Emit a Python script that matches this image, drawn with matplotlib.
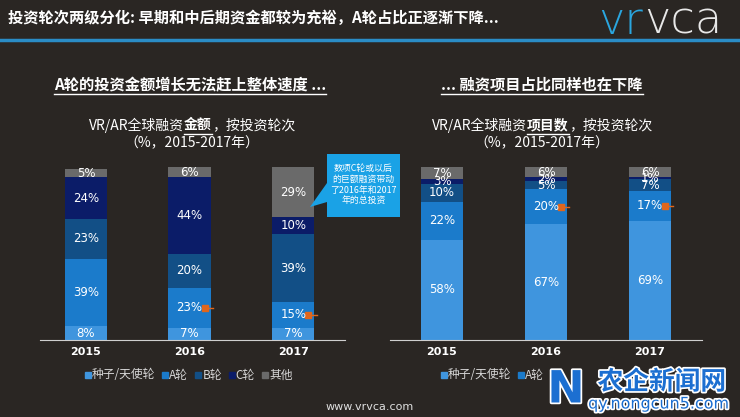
import matplotlib.pyplot as plt
import matplotlib.patheffects as pe
from matplotlib.patches import Polygon
import numpy as np

plt.rcParams['font.family'] = ['Noto Sans CJK SC', 'DejaVu Sans']

years = ['2015', '2016', '2017']
rounds = ['种子/天使轮', 'A轮', 'B轮', 'C轮', '其他']
colors = ['#3f95de', '#1b7bcb', '#124f86', '#0b1c68', '#6a6a6a']

# share of money, by round (rows) and year (cols)
amount = [[8, 7, 7],
          [39, 23, 15],
          [23, 20, 39],
          [24, 44, 10],
          [5, 6, 29]]
# share of deals
deals = [[58, 67, 69],
         [22, 20, 17],
         [10, 5, 7],
         [3, 2, 1],
         [7, 6, 6]]
marked = [1, 2]   # years with the orange dot on the A segment

bg = '#2a2623'
fig = plt.figure(figsize=(7.4, 4.17), dpi=100)
fig.patch.set_facecolor(bg)


def px_axes(x0, x1, y_top, y_bot):
    return fig.add_axes([x0 / 740, 1 - y_bot / 417, (x1 - x0) / 740, (y_bot - y_top) / 417])


def stacked(ax, data, xlim, width):
    x = np.arange(len(years))
    bottom = np.zeros(len(years))
    for k, vals in enumerate(data):
        ax.bar(x, vals, width, bottom=bottom, color=colors[k], linewidth=0)
        for i, v in enumerate(vals):
            ax.text(x[i], bottom[i] + v / 2, f'{v}%', ha='center', va='center',
                    color='white', fontsize=8.5, family='DejaVu Sans')
        if k == 1:
            for i in marked:
                y = bottom[i] + vals[i] / 2
                ax.plot([x[i] + width / 2 - 0.06, x[i] + width / 2 + 0.02], [y, y],
                        color='#e0661c', lw=1)
                ax.plot(x[i] + width / 2 - 0.06, y, 's', color='#e0661c', ms=4.5)
        bottom += np.array(vals)
    ax.set_xlim(*xlim)
    ax.set_ylim(0, 100)
    ax.set_facecolor('none')
    for s in ['top', 'right', 'left']:
        ax.spines[s].set_visible(False)
    ax.spines['bottom'].set_color('#cfcfcf')
    ax.set_yticks([])
    ax.set_xticks(x)
    ax.set_xticklabels(years, color='white', fontsize=8, family='DejaVu Sans', fontweight='bold')
    ax.tick_params(axis='x', length=0, pad=5)


ax1 = px_axes(40, 345, 167, 340)
stacked(ax1, amount, (-0.444, 2.5), 0.41)
ax2 = px_axes(390, 702, 167, 340)
stacked(ax2, deals, (-0.5, 2.5), 0.40)

# overlay for all the slide text, in pixel coords
ov = fig.add_axes([0, 0, 1, 1])
ov.set_xlim(0, 740)
ov.set_ylim(417, 0)
ov.axis('off')
ov.set_facecolor('none')
r = fig.canvas.get_renderer()


def line_of_parts(xc, y, parts, size, weight='normal'):
    # parts: list of (text, bold, underline); centred on xc
    ts = []
    for s, b, u in parts:
        t = ov.text(0, y, s, fontsize=size, color='white', va='center', ha='left',
                    fontweight='bold' if (b or weight == 'bold') else 'normal')
        ts.append((t, u))
    widths = [t.get_window_extent(r).width for t, u in ts]
    x = xc - sum(widths) / 2
    for (t, u), w in zip(ts, widths):
        t.set_x(x)
        if u:
            ov.plot([x, x + w], [y + size * 0.85, y + size * 0.85], color='white', lw=1)
        x += w


ov.text(8, 18, '投资轮次两级分化: 早期和中后期资金都较为充裕，A轮占比正逐渐下降...',
        color='white', fontsize=11, fontweight='bold', va='center')
ov.plot([0, 740], [40, 40], color='#2a8cc6', lw=2.5)
t = ov.text(598, 21, 'vr', color='#2aa6df', fontsize=32, va='center', fontweight='light',
            family='DejaVu Sans')
ov.text(598 + t.get_window_extent(r).width + 1, 21, 'vca', color='#e8e8e8', fontsize=32,
        va='center', fontweight='light', family='DejaVu Sans')

line_of_parts(190, 85, [('A轮的投资金额增长无法赶上整体速度 ...', True, True)], 11)
line_of_parts(542, 85, [('... 融资项目占比同样也在下降', True, True)], 11)
line_of_parts(192, 125, [('VR/AR全球融资', False, False), ('金额', True, True),
                         ('，按投资轮次', False, False)], 10)
line_of_parts(192, 143, [('（%，2015-2017年）', False, False)], 10)
line_of_parts(542, 125, [('VR/AR全球融资', False, False), ('项目数', True, True),
                         ('，按投资轮次', False, False)], 10)
line_of_parts(542, 143, [('（%，2015-2017年）', False, False)], 10)

# callout
ov.add_patch(Polygon([(327, 154), (400, 154), (400, 217), (327, 217), (327, 202),
                      (310, 207), (327, 183)], closed=True, color='#1aa2e6', lw=0))
ov.text(363.5, 185, '数项C轮或以后\n的巨额融资带动\n了2016年和2017\n年的总投资', color='white',
        fontsize=6.4, ha='center', va='center', linespacing=1.25)


def legend(x0, y, n):
    x = x0
    for c, name in list(zip(colors, rounds))[:n]:
        ov.plot(x, y, 's', color=c, ms=4)
        t = ov.text(x + 4, y, name, color='#d8d8d8', fontsize=8.5, va='center')
        x += 4 + t.get_window_extent(r).width + 10


legend(88, 375, 5)
legend(444, 375, 2)   # rest of this legend sits under the watermark in the source

ov.text(370, 407, 'www.vrvca.com', color='#e0e0e0', fontsize=8, ha='center', va='center',
        family='DejaVu Sans')

# watermark
stroke = [pe.withStroke(linewidth=2.5, foreground='white')]
ov.text(566, 390, 'N', color='#1c6fd1', fontsize=32, fontweight='bold', ha='center',
        va='center', path_effects=stroke, family='DejaVu Sans')
ov.text(662, 382, '农企新闻网', color='#1c6fd1', fontsize=18.5, fontweight='bold', ha='center',
        va='center', path_effects=stroke)
ov.text(659, 404, 'qy.nongcun5.com', color='#1c6fd1', fontsize=11.5, ha='center',
        va='center', path_effects=stroke, family='DejaVu Sans')

fig.savefig('out.png', dpi=100, facecolor=bg)
